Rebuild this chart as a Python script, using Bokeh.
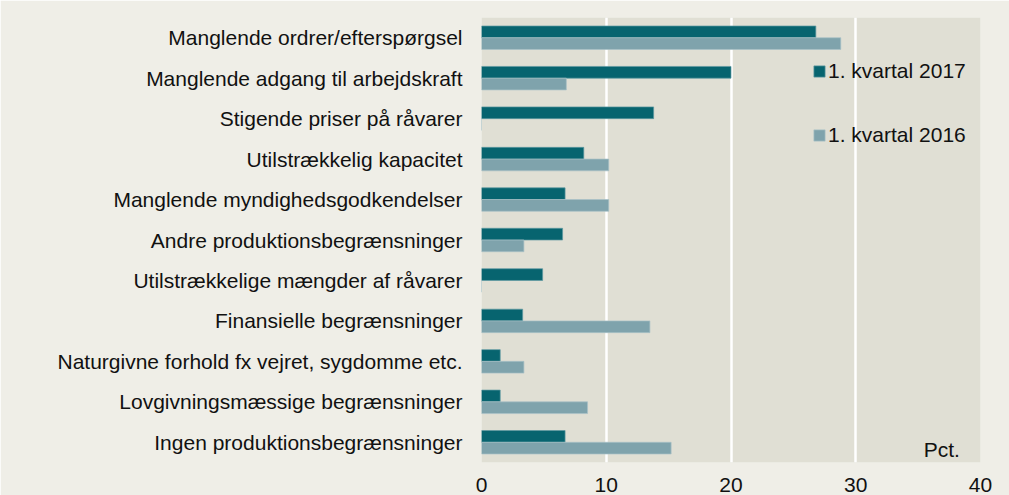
from bokeh.plotting import figure
from bokeh.models import ColumnDataSource, Legend, LegendItem, Label, FixedTicker
from bokeh.transform import dodge
from bokeh.embed import file_html
from bokeh.resources import INLINE

categories = [
    "Manglende ordrer/efterspørgsel",
    "Manglende adgang til arbejdskraft",
    "Stigende priser på råvarer",
    "Utilstrækkelig kapacitet",
    "Manglende myndighedsgodkendelser",
    "Andre produktionsbegrænsninger",
    "Utilstrækkelige mængder af råvarer",
    "Finansielle begrænsninger",
    "Naturgivne forhold fx vejret, sygdomme etc.",
    "Lovgivningsmæssige begrænsninger",
    "Ingen produktionsbegrænsninger",
]
q1_2017 = [26.8, 20.0, 13.8, 8.2, 6.7, 6.5, 4.9, 3.3, 1.5, 1.5, 6.7]
q1_2016 = [28.8, 6.8, 0.0, 10.2, 10.2, 3.4, 0.0, 13.5, 3.4, 8.5, 15.2]
x_ticks = [0, 10, 20, 30, 40]

FONT = "Liberation Sans"
FS = "21px"
DARK = "#07646f"
LIGHT = "#7fa3ac"
PAGE = "#efeee7"
PLOT = "#e0dfd4"

src = ColumnDataSource(dict(cat=categories, v17=q1_2017, v16=q1_2016))

p = figure(
    y_range=list(reversed(categories)),
    x_range=(0, 40),
    frame_width=499, frame_height=445,
    min_border_left=481, min_border_right=29,
    min_border_top=17, min_border_bottom=33,
    output_backend="svg", toolbar_location=None,
)
p.y_range.range_padding = 0

bh = 0.29
r17 = p.hbar(y=dodge("cat", 0.145, range=p.y_range), right="v17", left=0, height=bh,
             source=src, fill_color=DARK, line_color="#5f9aa2", line_width=0.7)
r16 = p.hbar(y=dodge("cat", -0.145, range=p.y_range), right="v16", left=0, height=bh,
             source=src, fill_color=LIGHT, line_color="#a9c2c7", line_width=0.7)

p.background_fill_color = PLOT
p.border_fill_color = PAGE
p.outline_line_color = None

p.ygrid.grid_line_color = None
p.xgrid.grid_line_color = "white"
p.xgrid.grid_line_width = 2.5
p.xgrid.ticker = FixedTicker(ticks=x_ticks)
p.xaxis.ticker = FixedTicker(ticks=x_ticks)

for ax in (p.xaxis, p.yaxis):
    ax.axis_line_color = None
    ax.major_tick_line_color = None
    ax.minor_tick_line_color = None
    ax.major_tick_out = 0
    ax.major_tick_in = 0
    ax.minor_tick_out = 0
    ax.major_label_text_font = FONT
    ax.major_label_text_font_size = FS
    ax.major_label_text_color = "#111111"
p.yaxis.major_label_standoff = 19
p.xaxis.major_label_standoff = 15

legend = Legend(
    items=[LegendItem(label="1. kvartal 2017", renderers=[r17]),
           LegendItem(label="1. kvartal 2016", renderers=[r16])],
    location=(331, 315),
    orientation="vertical",
    glyph_width=14, glyph_height=14,
    label_height=24, label_standoff=2,
    spacing=40, padding=0, margin=0,
    border_line_color=None, background_fill_alpha=0,
    label_text_font=FONT, label_text_font_size=FS,
    label_text_color="#111111",
)
p.add_layout(legend, "center")

pct = Label(x=38.35, y=0.32, text="Pct.", text_align="right", text_baseline="alphabetic",
            text_font=FONT, text_font_size=FS, text_color="#111111")
p.add_layout(pct)

html = file_html(p, INLINE)
html = html.replace("</head>", "<style>html, body { overflow: hidden; }</style>\n</head>", 1)
open("out.html", "w").write(html)
